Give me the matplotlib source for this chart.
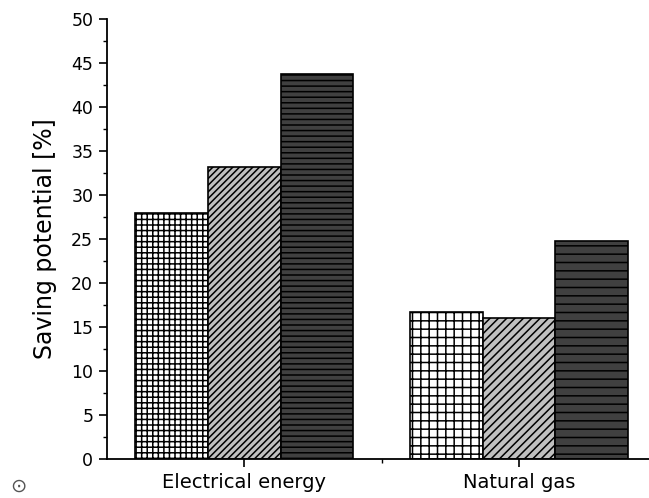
import matplotlib
matplotlib.use("Agg")
import matplotlib.pyplot as plt
import numpy as np

categories = ["Electrical energy", "Natural gas"]
series_a = [28.0, 16.7]   # grid hatch, white
series_b = [33.2, 16.0]   # diagonal hatch, light grey
series_c = [43.8, 24.8]   # horizontal hatch, dark grey

plt.rcParams.update({"font.family": "DejaVu Sans", "hatch.linewidth": 1.1})

fig = plt.figure(figsize=(6.49, 4.98), dpi=100)
ax = fig.add_axes([0.165, 0.078, 0.846, 0.884])

x = np.arange(1, len(categories) + 1)
w = 0.265
# hatch density in the original is a bit finer in the first group
styles = [(series_a, "white", ["+++", "++"]),
          (series_b, "#c0c0c0", ["/////", "////"]),
          (series_c, "#404040", ["---", "--"])]
for i, (vals, fc, hatches) in enumerate(styles):
    bars = ax.bar(x + (i - 1) * w, vals, w, color=fc, edgecolor="black", linewidth=1.2)
    for b, h in zip(bars, hatches):
        b.set_hatch(h)

ax.set_xlim(0.5, 2.5)
ax.set_ylim(0, 50)
ax.set_yticks(np.arange(0, 51, 5))
ax.set_yticks(np.arange(0, 50, 2.5), minor=True)
ax.set_xticks(x)
ax.set_xticklabels(categories, fontsize=14)
ax.set_xticks([1.5], minor=True)
ax.tick_params(axis="y", labelsize=12.5, length=6, width=1.2, direction="out", pad=4)
ax.tick_params(axis="y", which="minor", length=3, width=1.0)
ax.tick_params(axis="x", length=6, width=1.2, pad=4)
ax.tick_params(axis="x", which="minor", length=3, width=1.0)
ax.set_ylabel("Saving potential [%]", fontsize=17, labelpad=10)
for s in ["top", "right"]:
    ax.spines[s].set_visible(False)
for s in ["left", "bottom"]:
    ax.spines[s].set_linewidth(1.3)

fig.text(0.028, 0.024, "\u2299", fontsize=14, color="#555555", ha="center", va="center")

fig.savefig("out.png", dpi=100)
